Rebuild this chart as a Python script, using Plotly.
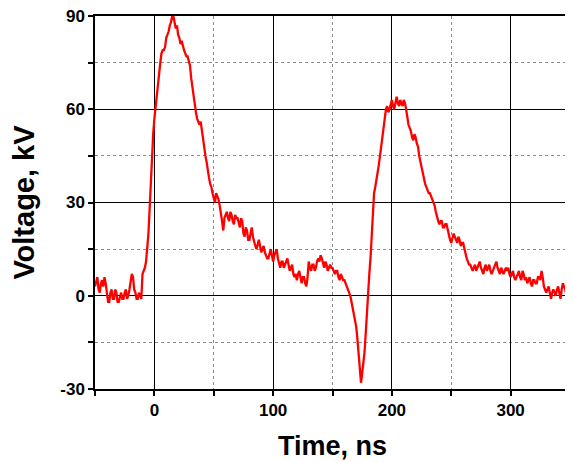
import plotly.graph_objects as go

# Time axis (ns), 1 ns step
time_ns = list(range(-50, 351))

# Voltage (kV), one value per ns
voltage_kv = [
    3, 5, 6, 2, 1, 4, 5, 3, 6, 4,              # -50 .. -41
    0, -2, -2, 1, 2, -1, -1, 2, 1, -2,         # -40 .. -31
    -2, 0, 1, -1, -1, 1, 2, -1, 0, 2,          # -30 .. -21
    5, 7, 6, 2, 1, -1, -1, 1, 0, -1,           # -20 .. -11
    7, 8, 9, 11, 15, 20, 28, 37, 46, 52,       # -10 .. -1
    57, 61, 64, 68, 72, 75, 78, 79, 79, 80,    # 0 .. 9
    83, 84, 85, 87, 88, 90, 90, 88, 86, 87,    # 10 .. 19
    84, 83, 81, 82, 80, 79, 78, 77, 77, 75,    # 20 .. 29
    74, 70, 67, 64, 62, 59, 57, 56, 55, 56,    # 30 .. 39
    53, 50, 48, 45, 43, 40, 38, 36, 35, 33,    # 40 .. 49
    31, 30, 33, 32, 31, 29, 27, 24, 21, 25,    # 50 .. 59
    26, 27, 25, 24, 27, 26, 24, 23, 26, 25,    # 60 .. 69
    25, 23, 22, 25, 24, 20, 19, 22, 21, 18,    # 70 .. 79
    18, 20, 22, 19, 17, 16, 15, 17, 18, 16,    # 80 .. 89
    14, 15, 16, 14, 13, 12, 12, 14, 15, 13,    # 90 .. 99
    11, 13, 14, 15, 12, 10, 9, 11, 11, 9,      # 100 .. 109
    10, 11, 12, 10, 8, 9, 10, 7, 6, 7,         # 110 .. 119
    5, 7, 8, 6, 4, 6, 6, 4, 3, 6,              # 120 .. 129
    11, 9, 8, 10, 10, 8, 9, 11, 12, 11,        # 130 .. 139
    13, 12, 10, 9, 11, 10, 8, 9, 10, 9,        # 140 .. 149
    9, 8, 7, 8, 8, 6, 5, 7, 6, 5,              # 150 .. 159
    5, 4, 3, 2, 1, 0, -2, -4, -6, -8,          # 160 .. 169
    -10, -14, -18, -22, -28, -25, -22, -18, -12, -5,  # 170 .. 179
    3, 7, 12, 20, 28, 33, 35, 37, 40, 42,      # 180 .. 189
    45, 48, 52, 55, 58, 60, 61, 59, 60, 62,    # 190 .. 199
    63, 61, 60, 62, 64, 62, 61, 63, 62, 61,    # 200 .. 209
    63, 62, 60, 57, 55, 54, 53, 51, 50, 52,    # 210 .. 219
    51, 49, 48, 45, 43, 41, 39, 37, 36, 35,    # 220 .. 229
    34, 33, 33, 32, 31, 30, 29, 27, 25, 24,    # 230 .. 239
    23, 24, 24, 22, 22, 23, 23, 21, 19, 18,    # 240 .. 249
    17, 19, 20, 19, 18, 17, 19, 18, 16, 17,    # 250 .. 259
    17, 15, 14, 12, 11, 10, 10, 9, 8, 9,       # 260 .. 269
    10, 8, 9, 10, 11, 9, 8, 7, 9, 10,          # 270 .. 279
    8, 9, 10, 8, 7, 8, 9, 10, 11, 9,           # 280 .. 289
    8, 7, 9, 8, 7, 8, 9, 8, 9, 7,              # 290 .. 299
    6, 7, 8, 6, 5, 6, 7, 8, 6, 5,              # 300 .. 309
    8, 7, 5, 6, 4, 5, 6, 4, 3, 5,              # 310 .. 319
    5, 4, 4, 6, 6, 5, 8, 6, 3, 2,              # 320 .. 329
    1, 2, 3, 1, -1, 1, 2, 1, 0, 2,             # 330 .. 339
    3, 1, -1, 2, 4, 3, 2, 0, -2, -1,           # 340 .. 349
    -3,                                        # 350
]

x_tickvals = [0, 100, 200, 300]
x_ticktext = ["0", "100", "200", "300"]
y_tickvals = [-30, 0, 30, 60, 90]
y_ticktext = ["-30", "0", "30", "60", "90"]

font_family = "Liberation Sans, Arial, sans-serif"

fig = go.Figure()
fig.add_trace(go.Scatter(
    x=time_ns, y=voltage_kv, mode="lines",
    line=dict(color="#ff0000", width=2.3),
    showlegend=False,
))

axis_common = dict(
    showline=True, linecolor="black", linewidth=1.5, mirror=True,
    ticks="outside", ticklen=5, tickwidth=1.5, tickcolor="black",
    showgrid=True, gridcolor="black", gridwidth=1,
    zeroline=False, automargin=False, ticklabeloverflow="allow",
    tickfont=dict(family=font_family, size=17, color="black", weight="bold"),
)

minor_common = dict(ticks="outside", ticklen=5, tickwidth=1.5, tickcolor="black",
                    showgrid=True, gridcolor="#8c8c8c", griddash="dot", gridwidth=1)

fig.update_xaxes(
    range=[-50, 350], tickmode="array", tickvals=x_tickvals, ticktext=x_ticktext,
    title=dict(text="Time, ns", font=dict(family=font_family, size=27, color="black", weight="bold"), standoff=17),
    minor=dict(tick0=-50, dtick=50, **minor_common),
    **axis_common,
)
fig.update_yaxes(
    range=[-30, 90], tickmode="array", tickvals=y_tickvals, ticktext=y_ticktext,
    title=dict(text="Voltage, kV", font=dict(family=font_family, size=29, color="black", weight="bold"), standoff=18),
    minor=dict(tick0=-15, dtick=30, **minor_common),
    **axis_common,
)

# page body adds an 8 px offset; sizes compensate for it
fig.update_layout(
    width=565, height=454,
    margin=dict(l=87, r=3, t=8, b=73),
    paper_bgcolor="white", plot_bgcolor="white",
)

fig.write_html("out.html")
